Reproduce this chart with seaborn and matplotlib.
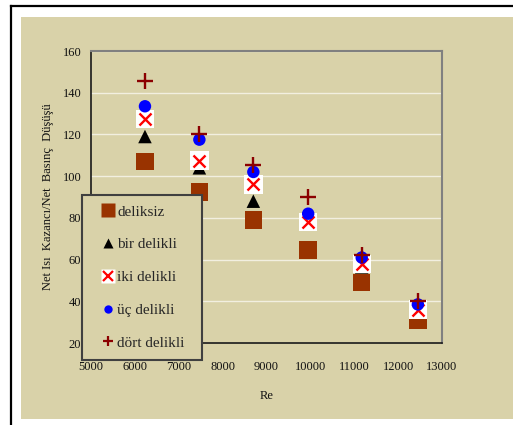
import matplotlib
matplotlib.use("Agg")
import matplotlib.pyplot as plt
from matplotlib.lines import Line2D
from matplotlib.patches import Rectangle
from matplotlib.legend_handler import HandlerTuple
import pandas as pd
import seaborn as sns

# Reynolds numbers and net heat gain / net pressure drop ratio per fin type
re_values = [6230, 7470, 8700, 9950, 11170, 12450]
deliksiz = [107, 92.5, 79, 64.5, 49, 31]
bir_delikli = [119, 104, 88, 77, 56.5, 35]
iki_delikli = [127.5, 107.5, 96, 78, 58, 36]
uc_delikli = [133.5, 117.5, 102, 82, 61, 38.5]
dort_delikli = [145.5, 120, 105.5, 90, 62, 40]

series_names = ["deliksiz", "bir delikli", "iki delikli", "üç delikli", "dört delikli"]
x_ticks = [5000, 6000, 7000, 8000, 9000, 10000, 11000, 12000, 13000]
y_ticks = [20, 40, 60, 80, 100, 120, 140, 160]

df = pd.DataFrame({
    "Re": re_values * 5,
    "value": deliksiz + bir_delikli + iki_delikli + uc_delikli + dort_delikli,
    "seri": [n for n in series_names for _ in re_values],
})

sns.set_style("white")
plt.rcParams["font.family"] = ["Liberation Serif", "DejaVu Serif"]

W, H = 513, 425
fig = plt.figure(figsize=(W / 100, H / 100), dpi=100)
fig.patch.set_facecolor("white")

beige = "#D9D2A9"
# beige panel and black frame
fig.add_artist(Rectangle((21 / W, 1 - 419 / H), 1 - 21 / W, (419 - 17) / H,
                         transform=fig.transFigure, facecolor=beige,
                         edgecolor="none", zorder=0))
fig.add_artist(Line2D([11 / W, 11 / W], [0, 1 - 6 / H], transform=fig.transFigure,
                      color="black", lw=1.6, solid_capstyle="projecting"))
fig.add_artist(Line2D([11 / W, 1], [1 - 6 / H, 1 - 6 / H], transform=fig.transFigure,
                      color="black", lw=1.6, solid_capstyle="projecting"))

ax = fig.add_axes([91 / W, 1 - 343 / H, 351 / W, 292 / H])
ax.set_facecolor(beige)

styles = {
    "deliksiz": dict(marker="s", color="#993300", s=160, edgecolor="none"),
    "bir delikli": dict(marker="^", color="black", s=95, edgecolor="none"),
    "üç delikli": dict(marker="o", color="#0000FF", s=80, edgecolor="none"),
    "dört delikli": dict(marker="+", color="#8B0000", s=120, linewidth=1.7),
}

z = 3
for name in series_names:
    sub = df[df["seri"] == name]
    if name == "iki delikli":
        sns.scatterplot(data=sub, x="Re", y="value", ax=ax, marker="s", color="white",
                        s=175, edgecolor="none", zorder=z, legend=False)
        z += 1
        sns.scatterplot(data=sub, x="Re", y="value", ax=ax, marker="x", color="#FF0000",
                        s=75, linewidth=1.7, zorder=z, legend=False)
    else:
        sns.scatterplot(data=sub, x="Re", y="value", ax=ax, zorder=z, legend=False,
                        **styles[name])
    z += 1

ax.set_xlim(5000, 13000)
ax.set_ylim(20, 160)
ax.set_xticks(x_ticks)
ax.set_yticks(y_ticks)
ax.set_xticklabels([str(t) for t in x_ticks])
ax.set_yticklabels([str(t) for t in y_ticks])
ax.grid(axis="y", color="#F2EFE0", lw=1.0)
ax.grid(axis="x", visible=False)
ax.set_axisbelow(True)

for side in ("left", "bottom"):
    ax.spines[side].set_color("#1a1a1a")
    ax.spines[side].set_linewidth(1.2)
for side in ("top", "right"):
    ax.spines[side].set_color("#808080")
    ax.spines[side].set_linewidth(1.5)

ax.tick_params(axis="both", which="major", direction="out", length=3, width=1,
               color="#1a1a1a", labelsize=9, labelcolor="#111111")
ax.tick_params(axis="x", pad=10)
ax.tick_params(axis="y", pad=4)
ax.tick_params(top=False, right=False)

ax.set_xlabel("Re", fontsize=9, labelpad=12, color="#111111")
ax.set_ylabel("Net Isı  Kazancı/Net  Basınç  Düşüşü", fontsize=9, labelpad=6,
              color="#111111")

# legend handles
h_sq = Line2D([], [], marker="s", ls="none", color="#993300", markersize=10, mec="none")
h_tri = Line2D([], [], marker="^", ls="none", color="black", markersize=7, mec="none")
h_box = Line2D([], [], marker="s", ls="none", color="white", markersize=10, mec="none")
h_x = Line2D([], [], marker="x", ls="none", color="#FF0000", markersize=6.5, mew=1.6)
h_dot = Line2D([], [], marker="o", ls="none", color="#0000FF", markersize=6, mec="none")
h_plus = Line2D([], [], marker="+", ls="none", color="#8B0000", markersize=7.5, mew=1.6)

leg = ax.legend([h_sq, h_tri, (h_box, h_x), h_dot, h_plus], series_names,
                handler_map={tuple: HandlerTuple(ndivide=1, pad=0)},
                loc="upper left", bbox_to_anchor=(82 / W, 1 - 361 / H, 120 / W, 166 / H),
                bbox_transform=fig.transFigure, mode="expand", frameon=True,
                fancybox=False, fontsize=11, labelspacing=1.25, handlelength=2.1,
                handletextpad=-0.45, borderpad=0.65, borderaxespad=0,
                facecolor=beige, edgecolor="#404040", framealpha=1)
leg.get_frame().set_linewidth(1.5)
leg.set_zorder(20)

fig.savefig("out.png", dpi=100)
